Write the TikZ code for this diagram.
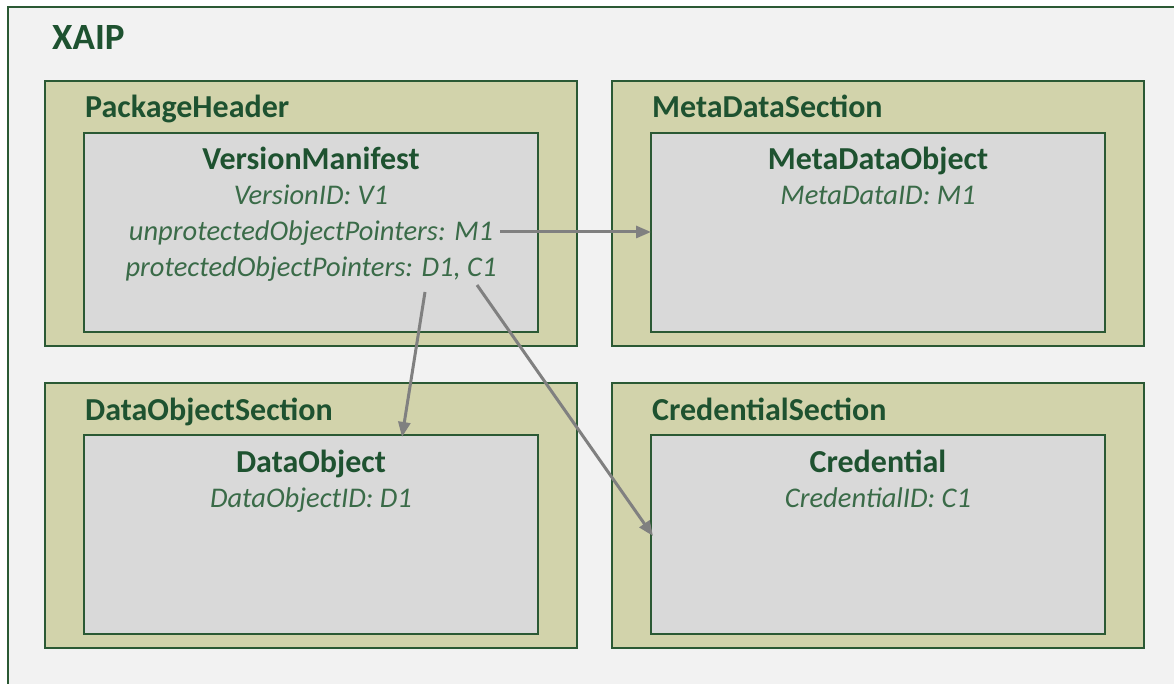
\documentclass[tikz,border=0pt]{standalone}
\usepackage{fontspec}
\setmainfont{Carlito}
\usetikzlibrary{arrows.meta}
\definecolor{outerfill}{HTML}{F2F2F2}
\definecolor{bordergreen}{HTML}{2B5934}
\definecolor{secfill}{HTML}{D2D3AB}
\definecolor{innerfill}{HTML}{D9D9D9}
\definecolor{titlegreen}{HTML}{1E5230}
\definecolor{fieldgreen}{HTML}{3A6B48}
\definecolor{arrowgray}{HTML}{808080}
\tikzset{
  outerbox/.style={draw=bordergreen, line width=2pt, fill=outerfill},
  secbox/.style={draw=bordergreen, line width=2pt, fill=secfill, anchor=north west,
    minimum width=532pt, minimum height=265pt, inner sep=0pt, outer sep=0pt},
  innerbox/.style={draw=bordergreen, line width=2pt, fill=innerfill, anchor=north west,
    minimum width=454pt, minimum height=199pt, inner sep=0pt, outer sep=0pt},
  maintitle/.style={font=\bfseries\fontsize{37}{42}\selectfont, text=titlegreen, anchor=base west, inner sep=0pt},
  sectitle/.style={font=\bfseries\fontsize{32}{36}\selectfont, text=titlegreen, anchor=base west, inner sep=0pt},
  objtitle/.style={font=\bfseries\fontsize{32}{36}\selectfont, text=titlegreen, anchor=base, inner sep=0pt},
  field/.style={font=\itshape\fontsize{28.5}{32}\selectfont, text=fieldgreen, anchor=base, inner sep=0pt},
  pointer/.style={draw=arrowgray, line width=3pt, -{Triangle[length=15pt,width=12pt]}}
}
\begin{document}
\begin{tikzpicture}[x=1pt,y=-1pt]
\useasboundingbox (0,0) rectangle (1174,684);
\begin{scope}
  \clip (0,0) rectangle (1174,684);
  \draw[outerbox] (8,7) rectangle (1200,710);
\end{scope}
\node[maintitle] (xaip) at (52,50) {XAIP};

% sections
\node[secbox] (ph) at (45,81) {};
\node[secbox] (mds) at (612,81) {};
\node[secbox] (dos) at (45,383) {};
\node[secbox] (cs) at (612,383) {};

\node[sectitle] (phT) at (85,118) {PackageHeader};
\node[sectitle] (mdsT) at (652,118) {MetaDataSection};
\node[sectitle] (dosT) at (85,420) {DataObjectSection};
\node[sectitle] (csT) at (652,420) {CredentialSection};

% inner objects
\node[innerbox] (vm) at (84,133) {};
\node[innerbox] (mdo) at (651,133) {};
\node[innerbox] (do) at (84,435) {};
\node[innerbox] (cr) at (651,435) {};

\node[objtitle] (vmT) at (311,170) {VersionManifest};
\node[field] (vmA) at (311,205) {VersionID: V1};
\node[field] (vmB) at (311,241) {unprotectedObjectPointers: M1};
\node[field] (vmC) at (311,277) {protectedObjectPointers: D1, C1};

\node[objtitle] (mdoT) at (878,170) {MetaDataObject};
\node[field] (mdoA) at (878,205) {MetaDataID: M1};

\node[objtitle] (doT) at (311,472) {DataObject};
\node[field] (doA) at (311,507) {DataObjectID: D1};

\node[objtitle] (crT) at (878,472) {Credential};
\node[field] (crA) at (878,507) {CredentialID: C1};

% pointers
\coordinate (m1) at (500,232);
\coordinate (d1) at (425,292);
\coordinate (c1) at (477,285);
\coordinate (doIn) at (402,437);
\coordinate (crIn) at (653,536);
\draw[pointer] (m1) -- (m1 -| mdo.west);
\draw[pointer] (d1) -- (doIn);
\draw[pointer] (c1) -- (crIn);
\end{tikzpicture}
\end{document}
